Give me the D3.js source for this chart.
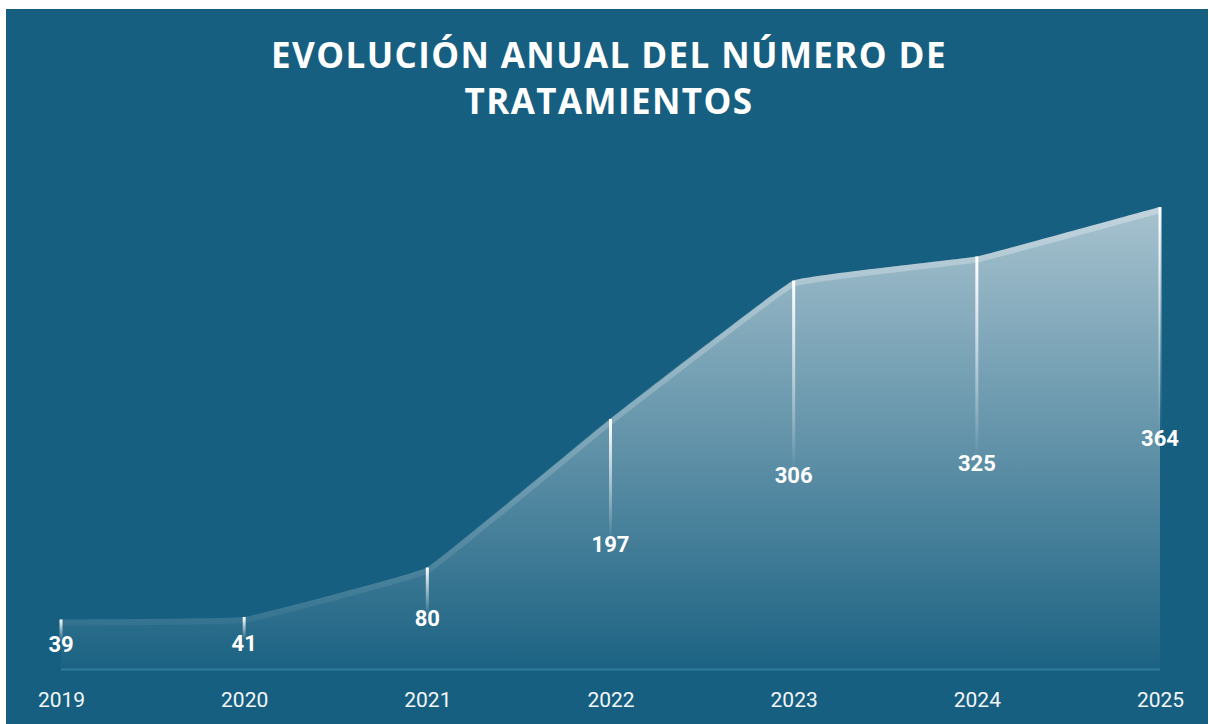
<!DOCTYPE html>
<html>
<head>
<meta charset="utf-8">
<script src="https://cdn.jsdelivr.net/npm/d3@7"></script>
<style>
    body { margin: 0; background: #ffffff; }
    svg { display: block; }
</style>
</head>
<body>
<div id="chart"></div>
<script>
// data
var years = ["2019", "2020", "2021", "2022", "2023", "2024", "2025"];
var values = [39, 41, 80, 197, 306, 325, 364];
var titleLines = ["EVOLUCIÓN ANUAL DEL NÚMERO DE", "TRATAMIENTOS"];

var w = 1209, h = 724;
var bg = "#175f80";

var svg = d3.select("#chart").append("svg")
    .attr("width", w)
    .attr("height", h);

svg.append("rect")
    .attr("x", 6).attr("y", 9)
    .attr("width", 1202).attr("height", h - 9)
    .attr("fill", bg);

var x = d3.scalePoint().domain(years).range([61, 1160]);
var y = d3.scaleLinear().domain([0, d3.max(values)]).range([669, 207]);

var defs = svg.append("defs");

var fillGrad = defs.append("linearGradient")
    .attr("id", "areaFill")
    .attr("gradientUnits", "userSpaceOnUse")
    .attr("x1", 0).attr("y1", y(d3.max(values)))
    .attr("x2", 0).attr("y2", y(0));
fillGrad.append("stop").attr("offset", 0).attr("stop-color", "#ffffff").attr("stop-opacity", 0.62);
fillGrad.append("stop").attr("offset", 0.55).attr("stop-color", "#ffffff").attr("stop-opacity", 0.3);
fillGrad.append("stop").attr("offset", 1).attr("stop-color", "#ffffff").attr("stop-opacity", 0.02);

// band along the top, stronger high up
var bandGrad = defs.append("linearGradient")
    .attr("id", "bandFill")
    .attr("gradientUnits", "userSpaceOnUse")
    .attr("x1", 0).attr("y1", y(d3.max(values)))
    .attr("x2", 0).attr("y2", y(0));
bandGrad.append("stop").attr("offset", 0).attr("stop-color", "#ffffff").attr("stop-opacity", 0.3);
bandGrad.append("stop").attr("offset", 0.6).attr("stop-color", "#ffffff").attr("stop-opacity", 0.14);
bandGrad.append("stop").attr("offset", 1).attr("stop-color", "#ffffff").attr("stop-opacity", 0.02);

var data = years.map(function(d, i) { return {year: d, value: values[i]}; });

// only a little smoothing, the segments are almost straight
var curve = d3.curveCardinal.tension(0.8);

var area = d3.area()
    .x(function(d) { return x(d.year); })
    .y0(y(0))
    .y1(function(d) { return y(d.value); })
    .curve(curve);

var line = d3.line()
    .x(function(d) { return x(d.year); })
    .y(function(d) { return y(d.value); })
    .curve(curve);

svg.append("path")
    .datum(data)
    .attr("d", area)
    .attr("fill", "url(#areaFill)");

svg.append("path")
    .datum(data)
    .attr("d", line)
    .attr("transform", "translate(0,3)")
    .attr("fill", "none")
    .attr("stroke", "url(#bandFill)")
    .attr("stroke-width", 6);

// baseline
svg.append("line")
    .attr("x1", x(years[0])).attr("x2", x(years[years.length - 1]))
    .attr("y1", y(0) + 0.5).attr("y2", y(0) + 0.5)
    .attr("stroke", "#2e7b9c")
    .attr("stroke-width", 2);

// drop lines, fading down
data.forEach(function(d, i) {
    var top = y(d.value);
    var mid = (top + y(0)) / 2;
    var g = defs.append("linearGradient")
        .attr("id", "drop" + i)
        .attr("gradientUnits", "userSpaceOnUse")
        .attr("x1", 0).attr("y1", top)
        .attr("x2", 0).attr("y2", mid - 4);
    g.append("stop").attr("offset", 0).attr("stop-color", "#ffffff").attr("stop-opacity", 1);
    g.append("stop").attr("offset", 1).attr("stop-color", "#ffffff").attr("stop-opacity", 0);
    svg.append("rect")
        .attr("x", x(d.year) - 1.5)
        .attr("y", top)
        .attr("width", 3)
        .attr("height", Math.max(0, mid - 4 - top))
        .attr("fill", "url(#drop" + i + ")");
});

// value labels
svg.selectAll("text.value")
    .data(data)
    .enter().append("text")
    .attr("class", "value")
    .attr("x", function(d) { return x(d.year); })
    .attr("y", function(d) { return (y(d.value) + y(0)) / 2 + 8; })
    .attr("text-anchor", "middle")
    .attr("font-family", "Roboto, 'Liberation Sans', sans-serif")
    .attr("font-weight", 700)
    .attr("font-size", 22)
    .attr("fill", "#ffffff")
    .text(function(d) { return d.value; });

// x axis labels
var xAxis = d3.axisBottom(x).tickSize(0).tickPadding(0);
var ax = svg.append("g")
    .attr("transform", "translate(0,707)")
    .call(xAxis);
ax.select(".domain").remove();
ax.selectAll("text")
    .attr("dy", 0)
    .attr("font-family", "Roboto, 'Liberation Sans', sans-serif")
    .attr("font-size", 21)
    .attr("fill", "#f2f6f8");

// title
svg.selectAll("text.title")
    .data(titleLines)
    .enter().append("text")
    .attr("class", "title")
    .attr("x", 609)
    .attr("y", function(d, i) { return 68 + i * 46; })
    .attr("text-anchor", "middle")
    .attr("font-family", "'Open Sans', 'Noto Sans', sans-serif")
    .attr("font-weight", 700)
    .attr("font-size", 35)
    .attr("letter-spacing", 1.4)
    .attr("fill", "#ffffff")
    .text(function(d) { return d; });
</script>
</body>
</html>
